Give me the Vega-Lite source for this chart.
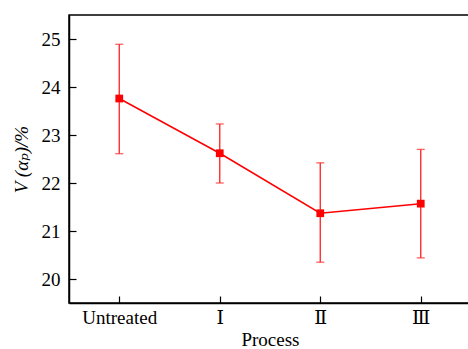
{
  "$schema": "https://vega.github.io/schema/vega-lite/v6.json",
  "autosize": {"type": "none"},
  "padding": {"left": 69, "top": 15, "right": 0, "bottom": 46},
  "width": 402,
  "height": 288,
  "background": "white",
  "config": {
    "view": {"stroke": "black", "strokeWidth": 1.5},
    "font": "'Liberation Serif', 'DejaVu Serif', serif",
    "axis": {
      "labelFont": "'Liberation Serif', 'DejaVu Serif', serif",
      "titleFont": "'Liberation Serif', 'DejaVu Serif', serif",
      "labelFontSize": 19,
      "titleFontSize": 19,
      "labelColor": "black",
      "titleColor": "black",
      "titleFontWeight": "normal",
      "domainColor": "black",
      "domainWidth": 1.5,
      "tickColor": "black",
      "tickWidth": 1.2,
      "grid": false
    }
  },
  "data": {
    "values": [
      {"process": "Untreated", "mean": 23.76, "lo": 22.61, "hi": 24.89},
      {"process": "Ⅰ", "mean": 22.62, "lo": 22.0, "hi": 23.23},
      {"process": "Ⅱ", "mean": 21.37, "lo": 20.35, "hi": 22.42},
      {"process": "Ⅲ", "mean": 21.57, "lo": 20.44, "hi": 22.7}
    ]
  },
  "encoding": {
    "x": {
      "field": "process",
      "type": "ordinal",
      "sort": null,
      "scale": {"type": "point", "padding": 0.5},
      "axis": {"title": "Process", "labelAngle": 0, "tickSize": -7, "labelPadding": 12, "titlePadding": 3}
    }
  },
  "layer": [
    {
      "mark": {"type": "rule", "color": "#ff2020", "strokeWidth": 1.3},
      "encoding": {
        "y": {
          "field": "lo",
          "type": "quantitative",
          "scale": {"domain": [19.5, 25.5], "nice": false, "zero": false},
          "axis": {
            "title": "V (αₚ)/%",
            "titleFontStyle": "italic",
            "values": [20, 20.5, 21, 21.5, 22, 22.5, 23, 23.5, 24, 24.5, 25],
            "labelExpr": "datum.value % 1 === 0 ? datum.label : ''",
            "format": "d",
            "tickSize": {"condition": {"test": "datum.value % 1 === 0", "value": -7}, "value": -4},
            "labelPadding": 16,
            "titlePadding": 10
          }
        },
        "y2": {"field": "hi"}
      }
    },
    {
      "mark": {"type": "tick", "color": "#ff2020", "orient": "horizontal", "size": 8, "thickness": 1.3},
      "encoding": {"y": {"field": "lo", "type": "quantitative"}}
    },
    {
      "mark": {"type": "tick", "color": "#ff2020", "orient": "horizontal", "size": 8, "thickness": 1.3},
      "encoding": {"y": {"field": "hi", "type": "quantitative"}}
    },
    {
      "mark": {"type": "line", "color": "#ff0000", "strokeWidth": 1.5},
      "encoding": {"y": {"field": "mean", "type": "quantitative"}}
    },
    {
      "mark": {"type": "square", "color": "#ff0000", "opacity": 1, "size": 60, "filled": true},
      "encoding": {"y": {"field": "mean", "type": "quantitative"}}
    }
  ]
}
